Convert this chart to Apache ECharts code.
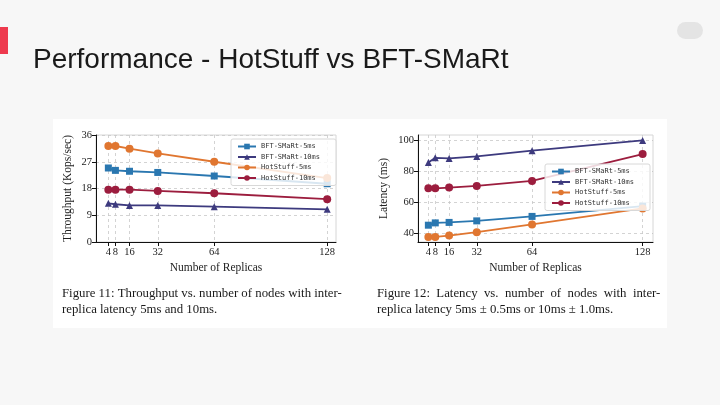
<!DOCTYPE html>
<html>
<head>
<meta charset="utf-8">
<script src="https://cdn.jsdelivr.net/npm/echarts@6/dist/echarts.min.js"></script>
<style>
html,body{margin:0;padding:0;background:#f7f7f7;}
#c{width:720px;height:405px;}
</style>
</head>
<body>
<div id="c"></div>
<script>
// ---- data ----
var replicas = [4, 8, 16, 32, 64, 128];
var xTicks = [4, 8, 16, 32, 64, 128];
var seriesNames = ['BFT-SMaRt-5ms', 'BFT-SMaRt-10ms', 'HotStuff-5ms', 'HotStuff-10ms'];
var thrBft5  = [24.9, 24.1, 23.8, 23.4, 22.2, 19.6];
var thrBft10 = [13.0, 12.7, 12.3, 12.3, 11.9, 11.0];
var thrHs5   = [32.3, 32.3, 31.4, 29.8, 27.0, 21.5];
var thrHs10  = [17.6, 17.6, 17.6, 17.2, 16.4, 14.4];
var latBft5  = [45.2, 46.7, 47.0, 48.0, 50.9, 57.6];
var latBft10 = [85.9, 88.9, 88.5, 89.8, 93.5, 100.2];
var latHs5   = [37.6, 37.6, 38.5, 40.7, 45.7, 56.1];
var latHs10  = [69.1, 69.1, 69.6, 70.7, 73.9, 91.3];
var thrTicks = [0, 9, 18, 27, 36];
var latTicks = [40, 60, 80, 100];
var titleText = 'Performance - HotStuff vs BFT-SMaRt';
var caption11 = ['Figure 11: Throughput vs. number of nodes with inter-', 'replica latency 5ms and 10ms.'];
var caption12 = ['Figure 12:  Latency  vs.  number  of  nodes  with  inter-', 'replica latency 5ms \u00b1 0.5ms or 10ms \u00b1 1.0ms.'];

// ---- styles ----
var colors = ['#2a77b0', '#3d3a7e', '#e07630', '#9c1d3e'];
var symbols = ['rect', 'triangle', 'circle', 'circle'];
var serif = '"Liberation Serif", "DejaVu Serif", serif';

function zip(ys) { return replicas.map(function (x, i) { return [x, ys[i]]; }); }

function mkSeries(idx, ys, ax) {
  return {
    type: 'line', name: seriesNames[idx], xAxisIndex: ax, yAxisIndex: ax,
    data: zip(ys), symbol: symbols[idx], symbolSize: symbols[idx] === 'circle' ? 8 : 7,
    itemStyle: { color: colors[idx] },
    lineStyle: { color: colors[idx], width: 1.8 },
    emphasis: { disabled: true }
  };
}

function mkX(gi, min, max) {
  return {
    type: 'value', gridIndex: gi, min: min, max: max,
    name: 'Number of Replicas', nameLocation: 'middle', nameGap: 20,
    nameTextStyle: { fontFamily: serif, fontSize: 11.5, color: '#222', verticalAlign: 'top' },
    axisLine: { show: true, onZero: false, lineStyle: { color: '#111', width: 1 } },
    axisTick: { show: true, length: 4, customValues: xTicks, lineStyle: { color: '#111' } },
    axisLabel: { customValues: xTicks, fontFamily: serif, fontSize: 10.5, color: '#222', margin: 5 },
    splitLine: { show: true, lineStyle: { color: '#c8c8c8', type: [3, 3], width: 0.8 } }
  };
}
function mkY(gi, min, max, ticks, name, gap) {
  return {
    type: 'value', gridIndex: gi, min: min, max: max,
    name: name, nameLocation: 'middle', nameGap: gap,
    nameTextStyle: { fontFamily: serif, fontSize: 11.5, color: '#222' },
    axisLine: { show: true, onZero: false, lineStyle: { color: '#111', width: 1 } },
    axisTick: { show: true, length: 4, customValues: ticks, lineStyle: { color: '#111' } },
    axisLabel: { customValues: ticks, fontFamily: serif, fontSize: 10.5, color: '#222', margin: 4 },
    splitLine: { show: true, lineStyle: { color: '#c8c8c8', type: [3, 3], width: 0.8 } }
  };
}
function mkLegend(left, top) {
  return {
    data: seriesNames, orient: 'vertical', left: left, top: top,
    itemWidth: 18, itemHeight: 7, itemGap: 3.5, padding: [4, 16, 4, 6],
    backgroundColor: 'rgba(255,255,255,0.82)', borderColor: '#d8d8d8', borderWidth: 1, borderRadius: 2,
    textStyle: { fontFamily: '"DejaVu Sans Mono", monospace', fontSize: 7, color: '#333' },
    selectedMode: false
  };
}

var chart = echarts.init(document.getElementById('c'), null, { renderer: 'canvas' });
chart.setOption({
  animation: false,
  backgroundColor: '#f7f7f7',
  graphic: [
    { type: 'rect', shape: { x: 53, y: 119, width: 614, height: 209 }, style: { fill: '#ffffff' }, z: -10 },
    { type: 'rect', shape: { x: 0, y: 27, width: 8, height: 27 }, style: { fill: '#ee3a4e' } },
    { type: 'rect', shape: { x: 677, y: 22, width: 26, height: 17, r: 8.5 }, style: { fill: '#e4e4e4' } },
    { type: 'text', x: 33, y: 60, style: { text: titleText, fontFamily: '"Liberation Sans", Arial, sans-serif', fontSize: 28, fill: '#1a1a1a', verticalAlign: 'middle' } },
    { type: 'text', x: 62, y: 294, style: { text: caption11[0], fontFamily: serif, fontSize: 12.8, fill: '#1a1a1a', verticalAlign: 'middle' } },
    { type: 'text', x: 62, y: 310, style: { text: caption11[1], fontFamily: serif, fontSize: 12.8, fill: '#1a1a1a', verticalAlign: 'middle' } },
    { type: 'text', x: 377, y: 294, style: { text: caption12[0], fontFamily: serif, fontSize: 12.8, fill: '#1a1a1a', verticalAlign: 'middle' } },
    { type: 'text', x: 377, y: 310, style: { text: caption12[1], fontFamily: serif, fontSize: 12.8, fill: '#1a1a1a', verticalAlign: 'middle' } }
  ],
  grid: [
    { left: 96, top: 135, width: 240, height: 107, show: true, borderColor: '#d6d6d6', borderWidth: 1, backgroundColor: 'transparent' },
    { left: 418, top: 135, width: 235, height: 107, show: true, borderColor: '#d6d6d6', borderWidth: 1, backgroundColor: 'transparent' }
  ],
  xAxis: [ mkX(0, -3, 133), mkX(1, -2, 134) ],
  yAxis: [
    mkY(0, 0, 36, thrTicks, 'Throughput (Kops/sec)', 22),
    mkY(1, 34.3, 103.7, latTicks, 'Latency (ms)', 28)
  ],
  legend: [ mkLegend(231, 139), mkLegend(545, 164) ],
  series: [
    mkSeries(0, thrBft5, 0), mkSeries(1, thrBft10, 0), mkSeries(2, thrHs5, 0), mkSeries(3, thrHs10, 0),
    mkSeries(0, latBft5, 1), mkSeries(1, latBft10, 1), mkSeries(2, latHs5, 1), mkSeries(3, latHs10, 1)
  ]
});
</script>
</body>
</html>
